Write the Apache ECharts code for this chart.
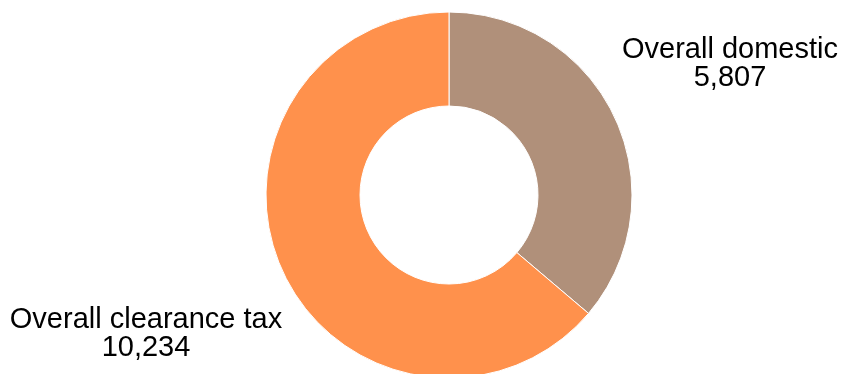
<!DOCTYPE html>
<html>
<head>
<meta charset="utf-8">
<style>
  html, body { margin: 0; padding: 0; background: #fff; }
  #chart { width: 843px; height: 374px; }
</style>
<script src="https://cdn.jsdelivr.net/npm/echarts@6/dist/echarts.min.js"></script>
</head>
<body>
<div id="chart"></div>
<script>
// data
var categories = ['Overall domestic', 'Overall clearance tax'];
var values = [5807, 10234];
var colors = ['#b0907a', '#ff914c'];

// where each label sits (label centre, px)
var labelSpots = [[730, 64], [146, 334]];

var chart = echarts.init(document.getElementById('chart'));

var pieData = categories.map(function (name, i) {
    return { name: name, value: values[i], itemStyle: { color: colors[i] } };
});

chart.setOption({
    animation: false,
    series: [{
        type: 'pie',
        center: [449, 195],
        radius: [89, 183],
        startAngle: 90,
        clockwise: true,
        avoidLabelOverlap: false,
        itemStyle: { borderColor: '#fff', borderWidth: 1 },
        label: {
            show: true,
            position: 'outside',
            color: '#000',
            fontFamily: 'Liberation Sans, Arial, sans-serif',
            fontSize: 29,
            lineHeight: 28,
            align: 'center',
            formatter: function (p) {
                return p.name + '\n' + p.value.toLocaleString('en-US');
            }
        },
        labelLine: { show: false },
        labelLayout: function (p) {
            var spot = labelSpots[p.dataIndex];
            return { x: spot[0], y: spot[1], align: 'center', verticalAlign: 'middle' };
        },
        emphasis: { disabled: true },
        data: pieData
    }]
});
</script>
</body>
</html>
